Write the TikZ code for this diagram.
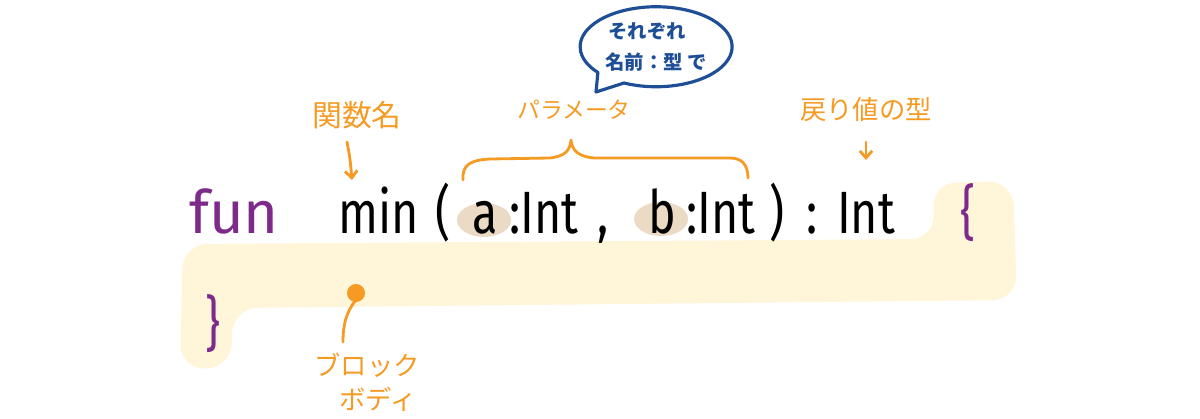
\documentclass[tikz,border=0pt]{standalone}
\usepackage{fontspec}
\setmainfont{Fira Sans}
\newfontfamily\jp{Noto Sans CJK JP}
\newfontfamily\codefont[FakeStretch=0.78]{Fira Sans}
\usetikzlibrary{arrows.meta}
\definecolor{orng}{RGB}{245,154,35}
\definecolor{purp}{RGB}{126,42,139}
\definecolor{blu}{RGB}{30,79,150}
\definecolor{ylw}{RGB}{255,245,217}
\definecolor{beige}{RGB}{235,218,196}
\begin{document}
\begin{tikzpicture}[x=0.02cm,y=-0.02cm,
  codetok/.style={inner sep=0pt,anchor=base,font=\codefont\fontsize{34}{34}\selectfont},
  kw/.style={codetok,text=purp},
  lbl/.style={inner sep=0pt,text=orng,font=\jp\fontsize{#1}{#1}\selectfont},
  bubtxt/.style={inner sep=0pt,text=blu,font=\jp\bfseries\fontsize{11}{11}\selectfont},
  orline/.style={draw=orng,line width=1.6pt,line cap=round,line join=round},
  arr/.style={orline,-{Straight Barb[length=4pt,width=7pt]}}]
\useasboundingbox (0,0) rectangle (1200,419);
% yellow block highlight
\fill[ylw,rounded corners=14] (183,244) -- (935,239) -- (932,183) -- (1013,181) -- (1017,300) -- (233,308) -- (231,368) -- (180,369) -- cycle;
% beige highlights
\fill[beige] (484,220) ellipse[x radius=27,y radius=17];
\fill[beige] (661,219) ellipse[x radius=27,y radius=17];
% code
\node[kw,font=\rmfamily\fontsize{34}{34}\selectfont] (fun) at (234,233) {fun};
\node[codetok] (min) at (379,233) {min};
\node[codetok] (lp) at (443,233) {(};
\node[codetok] (a) at (485,233) {a};
\node[codetok] (t1) at (544,233) {:Int};
\node[codetok] (comma) at (603,233) {,};
\node[codetok] (b) at (662,233) {b};
\node[codetok] (t2) at (721,233) {:Int};
\node[codetok] (rp) at (777,233) {)};
\node[codetok] (colon) at (812,233) {:};
\node[codetok] (ret) at (866,233) {Int};
\node[kw] (lb) at (968,233) {\{};
\node[kw] (rb) at (213,344) {\}};
% labels
\node[lbl=17] (fname) at (357,115) {関数名};
\node[lbl=13] (params) at (574,110) {パラメータ};
\node[lbl=15] (rtype) at (866,110) {戻り値の型};
\coordinate (fa1) at (347,142);
\coordinate (fa2) at (352,180);
\draw[arr] (fa1) .. controls (350,158) .. (fa2);
\coordinate (ra1) at (866,142);
\coordinate (ra2) at (866,160);
\draw[arr] (ra1) -- (ra2);
% brace
\coordinate (br1) at (463,180);
\coordinate (brtop) at (571,140);
\coordinate (br2) at (748,178);
\draw[orline] (br1) .. controls (462,165) and (470,160) .. (490,159)
  -- (550,158) .. controls (566,156) and (570,150) .. (brtop)
  .. controls (572,150) and (578,157) .. (595,158)
  -- (730,158) .. controls (742,158) and (748,165) .. (br2);
% speech bubble
\coordinate (tail) at (596,92);
\draw[blu,line width=1.8pt,line join=round,fill=white] (624,83) arc[start angle=115,end angle=-220,x radius=76,y radius=40] -- (tail) -- cycle;
\node[bubtxt] (bub1) at (647,31) {それぞれ};
\node[bubtxt] (bub2) at (656,62) {名前：型 で};
% block body pointer
\fill[orng] (356,293) circle[radius=9];
\coordinate (dot) at (356,300);
\coordinate (lineend) at (343,342);
\draw[orline] (dot) .. controls (346,312) and (343,325) .. (lineend);
\node[lbl=15] (blk1) at (367,365) {ブロック};
\node[lbl=15] (blk2) at (378,399) {ボディ};
\end{tikzpicture}
\end{document}
